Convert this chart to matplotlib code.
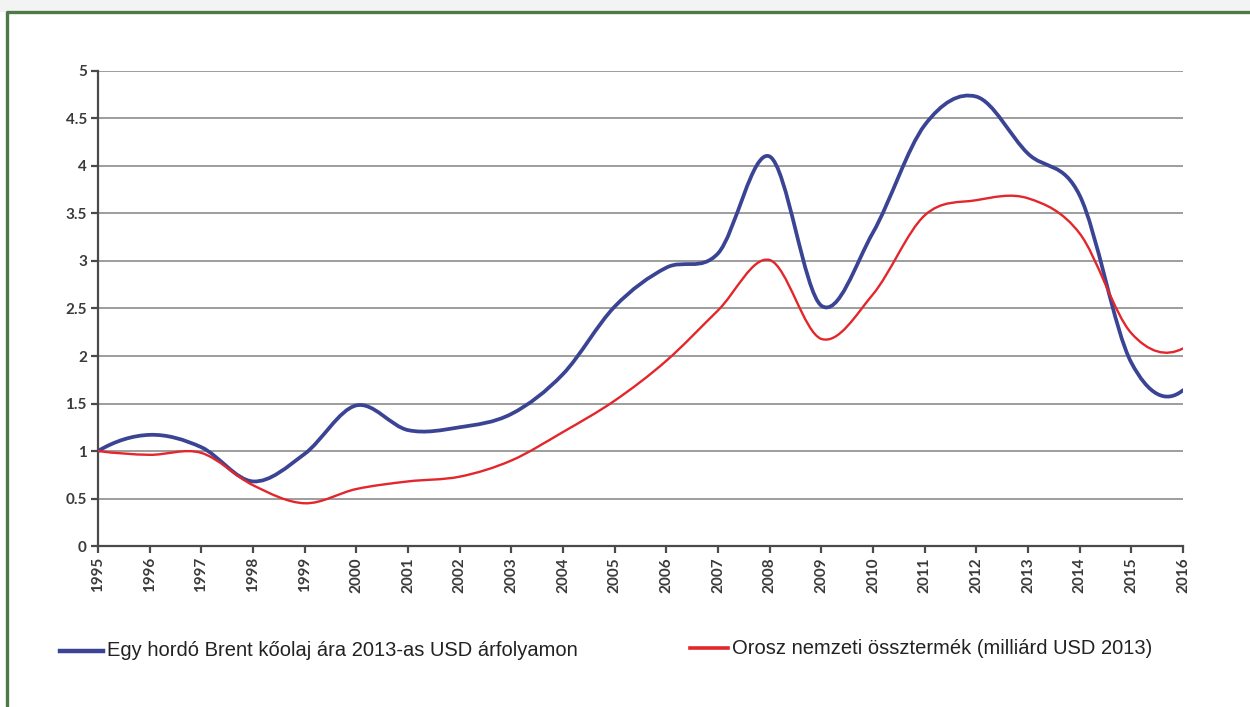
import numpy as np
import matplotlib.pyplot as plt
from matplotlib.path import Path
from matplotlib.patches import PathPatch, Rectangle
from matplotlib.lines import Line2D

years = list(range(1995, 2017))
brent = [1.0, 1.17, 1.04, 0.68, 0.97, 1.48, 1.22, 1.25, 1.39, 1.81, 2.52, 2.93,
         3.08, 4.1, 2.53, 3.3, 4.43, 4.73, 4.13, 3.69, 1.93, 1.64]
gdp = [1.0, 0.96, 0.98, 0.64, 0.45, 0.6, 0.68, 0.73, 0.9, 1.2, 1.53, 1.95,
       2.48, 3.01, 2.18, 2.65, 3.48, 3.64, 3.66, 3.29, 2.24, 2.08]
labels = ['Egy hordó Brent kőolaj ára 2013-as USD árfolyamon',
          'Orosz nemzeti össztermék (milliárd USD 2013)']
colors = ['#3b4494', '#e3262b']

plt.rcParams['font.family'] = ['Liberation Sans', 'DejaVu Sans']


def smooth_path(x, y):
    # smoothed line: cubic bezier segments, catmull-rom tangents,
    # quadratic end conditions at both ends
    pts = np.column_stack([x, y]).astype(float)
    n = len(pts)
    tang = np.zeros_like(pts)
    tang[1:-1] = (pts[2:] - pts[:-2]) / 2
    tang[0] = 2 * (pts[1] - pts[0]) - tang[1]
    tang[-1] = 2 * (pts[-1] - pts[-2]) - tang[-2]
    verts = [tuple(pts[0])]
    codes = [Path.MOVETO]
    for i in range(n - 1):
        c1 = pts[i] + tang[i] / 3
        c2 = pts[i + 1] - tang[i + 1] / 3
        verts += [tuple(c1), tuple(c2), tuple(pts[i + 1])]
        codes += [Path.CURVE4] * 3
    return Path(verts, codes)


fig = plt.figure(figsize=(12.5, 7.07), dpi=100)
fig.add_artist(Rectangle((0, 1 - 12 / 707), 1, 12 / 707, transform=fig.transFigure,
                         color='#f3f3f3', lw=0))
ax = fig.add_axes([0.0784, 0.2277, 0.868, 0.6719])

ax.add_patch(PathPatch(smooth_path(years, brent), fill=False, edgecolor=colors[0],
                       lw=2.7, capstyle='round', joinstyle='round', zorder=3))
ax.add_patch(PathPatch(smooth_path(years, gdp), fill=False, edgecolor=colors[1],
                       lw=1.7, capstyle='round', joinstyle='round', zorder=4))

ax.set_xlim(1995, 2016)
ax.set_ylim(0, 5)
ax.set_xticks(years)
ax.set_xticklabels([str(y) for y in years], rotation=90, fontsize=11,
                   family=['Lato', 'DejaVu Sans'], fontweight='bold', color='#3a3a3a')
yt = [0, 0.5, 1, 1.5, 2, 2.5, 3, 3.5, 4, 4.5, 5]
ax.set_yticks(yt)
ax.set_yticklabels(['0', '0.5', '1', '1.5', '2', '2.5', '3', '3.5', '4', '4.5', '5'],
                   fontsize=11, family=['Lato', 'DejaVu Sans'], fontweight='bold', color='#3a3a3a')
ax.grid(axis='y', color='#959595', lw=1.3)
ax.set_axisbelow(True)
for s in ['top', 'right']:
    ax.spines[s].set_visible(False)
for s in ['left', 'bottom']:
    ax.spines[s].set_color('#4a4a4a')
    ax.spines[s].set_linewidth(1.6)
ax.tick_params(axis='both', length=5, width=1.6, color='#4a4a4a', pad=3)

# legend below the plot
fig.add_artist(Line2D([60 / 1250, 103 / 1250], [1 - 651 / 707] * 2, color=colors[0], lw=3.2))
fig.text(107 / 1250, 1 - 651 / 707, labels[0], fontsize=14.5, va='center', color='#222222')
fig.add_artist(Line2D([690 / 1250, 728 / 1250], [1 - 648 / 707] * 2, color=colors[1], lw=2.6))
fig.text(732 / 1250, 1 - 648 / 707, labels[1], fontsize=14.5, va='center', color='#222222')

# green frame
fig.add_artist(Line2D([7 / 1250, 7 / 1250, 1.0], [0.0, 1 - 12 / 707, 1 - 12 / 707],
                      color='#4f7a46', lw=2.4))

fig.savefig('out.png', dpi=100)
